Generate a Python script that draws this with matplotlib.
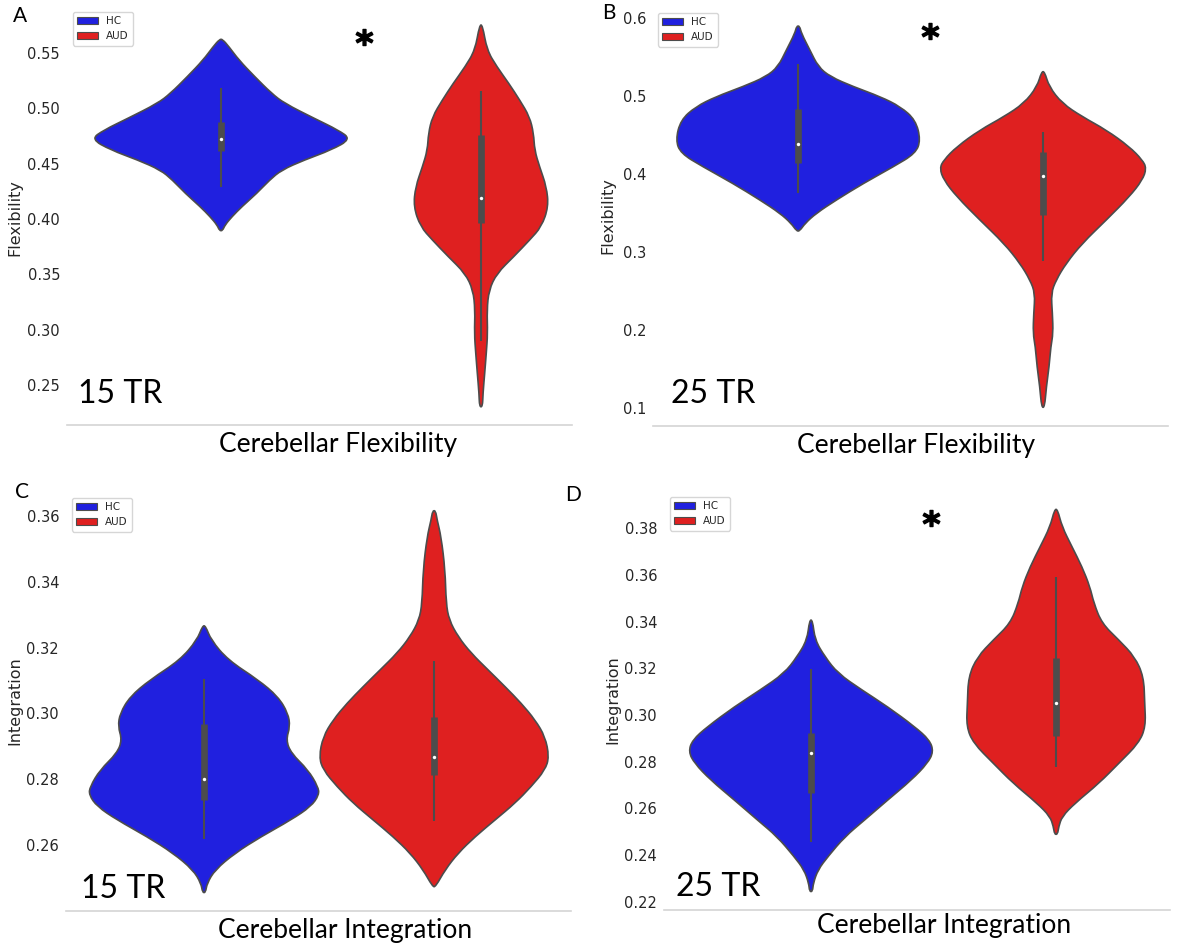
import numpy as np
import matplotlib
matplotlib.use('Agg')
import matplotlib.pyplot as plt
from matplotlib.patches import Patch, PathPatch
from matplotlib.path import Path

# ---- data (violin outlines: value, relative density) ----
groups = ['HC', 'AUD']

# A: 15 TR flexibility
a_hc_y = [0.5624, 0.5557, 0.5437, 0.5286, 0.5135, 0.5045, 0.4909, 0.4804, 0.4722, 0.4623,
          0.4533, 0.4442, 0.4352, 0.4231, 0.4111, 0.4020, 0.3945, 0.3894]
a_hc_w = [1.5, 8, 18, 34, 51, 64, 94, 118, 131, 111, 84, 61, 49, 36, 21, 11, 4, 1.5]
a_aud_y = [0.5753, 0.5527, 0.5376, 0.5226, 0.5075, 0.4924, 0.4774, 0.4623, 0.4472, 0.4291,
           0.4111, 0.3930, 0.3809, 0.3659, 0.3508, 0.3357, 0.3176, 0.2965, 0.2785, 0.2604,
           0.2423, 0.2302]
a_aud_w = [1.5, 6, 16, 28, 39, 49, 53, 54, 59, 66, 68, 61, 49, 33, 16, 8, 6, 6.7, 5.3, 3.7, 2, 1.5]

# B: 25 TR flexibility
b_hc_y = [0.5897, 0.5803, 0.5590, 0.5376, 0.5248, 0.5120, 0.4991, 0.4863, 0.4692, 0.4436,
          0.4265, 0.4094, 0.3880, 0.3667, 0.3496, 0.3368, 0.3269]
b_hc_w = [1.5, 3.3, 11.7, 20, 32, 55, 82, 102, 117, 122, 117, 95, 65, 38, 18, 7, 1.5]
b_aud_y = [0.5312, 0.5120, 0.4906, 0.4735, 0.4564, 0.4350, 0.4179, 0.4073, 0.3923, 0.3709,
           0.3410, 0.3111, 0.2855, 0.2641, 0.2470, 0.2214, 0.1957, 0.1786, 0.1530, 0.1274,
           0.1009]
b_aud_w = [1.5, 6, 19, 39, 63, 86, 99, 103, 99, 86, 63, 39, 23, 13, 8, 9.3, 10, 7.7, 6, 3.3, 1.5]

# C: 15 TR integration
c_hc_y = [0.3266, 0.3223, 0.3162, 0.3102, 0.3051, 0.3000, 0.2960, 0.2919, 0.2879, 0.2828,
          0.2777, 0.2752, 0.2717, 0.2676, 0.2625, 0.2575, 0.2524, 0.2483, 0.2455]
c_hc_w = [1.5, 7, 24, 54, 74, 84, 86, 82, 87, 104, 114, 115, 107, 87, 57, 31, 11, 3, 1.5]
c_aud_y = [0.3616, 0.3588, 0.3537, 0.3436, 0.3335, 0.3284, 0.3233, 0.3183, 0.3132, 0.3081,
           0.3031, 0.2980, 0.2929, 0.2868, 0.2828, 0.2777, 0.2727, 0.2676, 0.2625, 0.2575,
           0.2524, 0.2473]
c_aud_w = [1.5, 3, 7, 11, 12, 15, 24, 37, 54, 71, 87, 101, 111, 115, 111, 97, 81, 61, 41, 24, 11, 1.5]

# D: 25 TR integration
d_hc_y = [0.3406, 0.3321, 0.3249, 0.3178, 0.3107, 0.3035, 0.2950, 0.2893, 0.2843, 0.2793,
          0.2722, 0.2636, 0.2551, 0.2479, 0.2394, 0.2337, 0.2280, 0.2244]
d_hc_w = [1.5, 4, 14, 27, 51, 77, 104, 119, 123, 117, 101, 77, 54, 34, 17, 7, 2.3, 1.5]
d_aud_y = [0.3880, 0.3806, 0.3720, 0.3635, 0.3549, 0.3478, 0.3392, 0.3321, 0.3249, 0.3164,
           0.3050, 0.2950, 0.2879, 0.2793, 0.2707, 0.2622, 0.2565, 0.2522, 0.2489]
d_aud_w = [1.5, 6, 16, 26, 34, 38, 46, 63, 79, 88, 89, 90, 83, 63, 43, 19, 6, 2.7, 1.5]

# box stats: [whisker low, q1, median, q3, whisker high]
a_hc_box = [0.429, 0.4614, 0.472, 0.4876, 0.518]
a_aud_box = [0.2896, 0.3963, 0.4189, 0.4759, 0.5157]
b_hc_box = [0.3756, 0.4141, 0.4385, 0.4833, 0.541]
b_aud_box = [0.2885, 0.3474, 0.3974, 0.4282, 0.4538]
c_hc_box = [0.2618, 0.2737, 0.2801, 0.2968, 0.3105]
c_aud_box = [0.2673, 0.2813, 0.2867, 0.2989, 0.3159]
d_hc_box = [0.2456, 0.2666, 0.2837, 0.2923, 0.3197]
d_aud_box = [0.2777, 0.291, 0.3051, 0.3244, 0.359]

a_ticks = [0.25, 0.30, 0.35, 0.40, 0.45, 0.50, 0.55]
b_ticks = [0.1, 0.2, 0.3, 0.4, 0.5, 0.6]
c_ticks = [0.26, 0.28, 0.30, 0.32, 0.34, 0.36]
d_ticks = [0.22, 0.24, 0.26, 0.28, 0.30, 0.32, 0.34, 0.36, 0.38]

# ---- style ----
blue = '#2020df'
red = '#df2020'
edge = '#4c4c4c'
txt = '#262626'
W, H = 1188, 948

fig = plt.figure(figsize=(W / 100, H / 100), dpi=100)


def fx(x):
    return x / W


def fy(y):
    return 1 - y / H


def violin_patch(pos, yv, half, color):
    # closed outline: right side top->bottom, left side bottom->top,
    # stroked as a smooth quadratic curve through the midpoints
    xs = np.concatenate([pos + half, (pos - half)[::-1]])
    ys = np.concatenate([yv, yv[::-1]])
    pts = np.column_stack([xs, ys])
    n = len(pts)
    mids = (pts + np.roll(pts, -1, axis=0)) / 2
    verts = [mids[-1]]
    codes = [Path.MOVETO]
    for i in range(n):
        verts += [pts[i], mids[i]]
        codes += [Path.CURVE3, Path.CURVE3]
    verts.append(mids[-1])
    codes.append(Path.CLOSEPOLY)
    return PathPatch(Path(verts, codes), facecolor=color, edgecolor=edge,
                     linewidth=1.2, zorder=1)


panels = [
    dict(letter='A', box=(67, 10, 572, 425), ylim=(0.2137, 0.5889), xlim=(-0.437, 0.340),
         hc=(a_hc_y, a_hc_w, a_hc_box), aud=(a_aud_y, a_aud_w, a_aud_box),
         ticks=a_ticks, fmt='%.2f', ylabel='Flexibility', ylab_x=22,
         xlabel='Cerebellar Flexibility', xlab=(338, 452), tr='15 TR', tr_pos=(78, 403),
         letter_pos=(13, 22), leg=(73, 12), star=(0.02, 0.5645)),
    dict(letter='B', box=(653, 5, 1168, 426), ylim=(0.0769, 0.6167), xlim=(-0.437, 0.404),
         hc=(b_hc_y, b_hc_w, b_hc_box), aud=(b_aud_y, b_aud_w, b_aud_box),
         ticks=b_ticks, fmt='%.1f', ylabel='Flexibility', ylab_x=615,
         xlabel='Cerebellar Flexibility', xlab=(916, 453), tr='25 TR', tr_pos=(671, 403),
         letter_pos=(602, 19), leg=(658, 13), star=(0.016, 0.583)),
    dict(letter='C', box=(66, 490, 571, 911), ylim=(0.2399, 0.3679), xlim=(-0.44, 0.438),
         hc=(c_hc_y, c_hc_w, c_hc_box), aud=(c_aud_y, c_aud_w, c_aud_box),
         ticks=c_ticks, fmt='%.2f', ylabel='Integration', ylab_x=22,
         xlabel='Cerebellar Integration', xlab=(345, 938), tr='15 TR', tr_pos=(81, 898),
         letter_pos=(15, 498), leg=(72, 498), star=None),
    dict(letter='D', box=(664, 490, 1170, 910), ylim=(0.2165, 0.3963), xlim=(-0.44, 0.386),
         hc=(d_hc_y, d_hc_w, d_hc_box), aud=(d_aud_y, d_aud_w, d_aud_box),
         ticks=d_ticks, fmt='%.2f', ylabel='Integration', ylab_x=620,
         xlabel='Cerebellar Integration', xlab=(944, 933), tr='25 TR', tr_pos=(676, 896),
         letter_pos=(565, 501), leg=(670, 497), star=(-0.004, 0.3843)),
]

for p in panels:
    l, t, r, b = p['box']
    ax = fig.add_axes([fx(l), fy(b), (r - l) / W, (b - t) / H])
    ax.set_xlim(*p['xlim'])
    ax.set_ylim(*p['ylim'])

    wmax = max(max(p['hc'][1]), max(p['aud'][1]))
    for pos, (yv, wv, bx), color in [(-0.2, p['hc'], blue), (0.2, p['aud'], red)]:
        half = np.array(wv) / wmax * 0.2
        ax.add_patch(violin_patch(pos, np.array(yv), half, color))
        ax.vlines(pos, bx[0], bx[4], color=edge, linewidth=1.5, zorder=2)
        ax.vlines(pos, bx[1], bx[3], color=edge, linewidth=4.8, zorder=2)
        ax.scatter([pos], [bx[2]], s=6, color='white', zorder=3, linewidths=0)

    for s in ['left', 'right', 'top']:
        ax.spines[s].set_visible(False)
    ax.spines['bottom'].set_color('#d4d4d4')
    ax.spines['bottom'].set_linewidth(1.2)
    ax.set_xticks([])
    ax.set_yticks(p['ticks'])
    ax.set_yticklabels([p['fmt'] % v for v in p['ticks']])
    ax.tick_params(axis='y', length=0, pad=5, labelsize=10.5, labelcolor=txt)

    ax.set_ylabel(p['ylabel'], fontsize=11.5, color=txt)
    ax.yaxis.set_label_coords((p['ylab_x'] - l) / (r - l), 0.5)

    handles = [Patch(facecolor=blue, edgecolor=edge, linewidth=0.8, label=groups[0]),
               Patch(facecolor=red, edgecolor=edge, linewidth=0.8, label=groups[1])]
    ax.legend(handles=handles, loc='upper left', bbox_to_anchor=(fx(p['leg'][0]), fy(p['leg'][1])),
              bbox_transform=fig.transFigure, borderaxespad=0, fontsize=7.5, frameon=True,
              edgecolor='0.8', fancybox=True, labelcolor=txt, handlelength=2.0,
              borderpad=0.4, labelspacing=0.5)

    if p['star'] is not None:
        ax.plot([p['star'][0]], [p['star'][1]], marker=r'$\mathbf{*}$', markersize=12,
                color='black', linestyle='none', zorder=4, clip_on=False)

    fig.text(fx(p['tr_pos'][0]), fy(p['tr_pos'][1]), p['tr'], fontsize=23, family='Lato',
             ha='left', va='baseline', color='black')
    fig.text(fx(p['letter_pos'][0]), fy(p['letter_pos'][1]), p['letter'], fontsize=15,
             family='Lato', ha='left', va='baseline', color='black')
    fig.text(fx(p['xlab'][0]), fy(p['xlab'][1]), p['xlabel'], fontsize=19, family='Lato',
             ha='center', va='baseline', color='black',
             bbox=dict(facecolor='white', edgecolor='none', pad=1))

fig.savefig('out.png', dpi=100, facecolor='white')
